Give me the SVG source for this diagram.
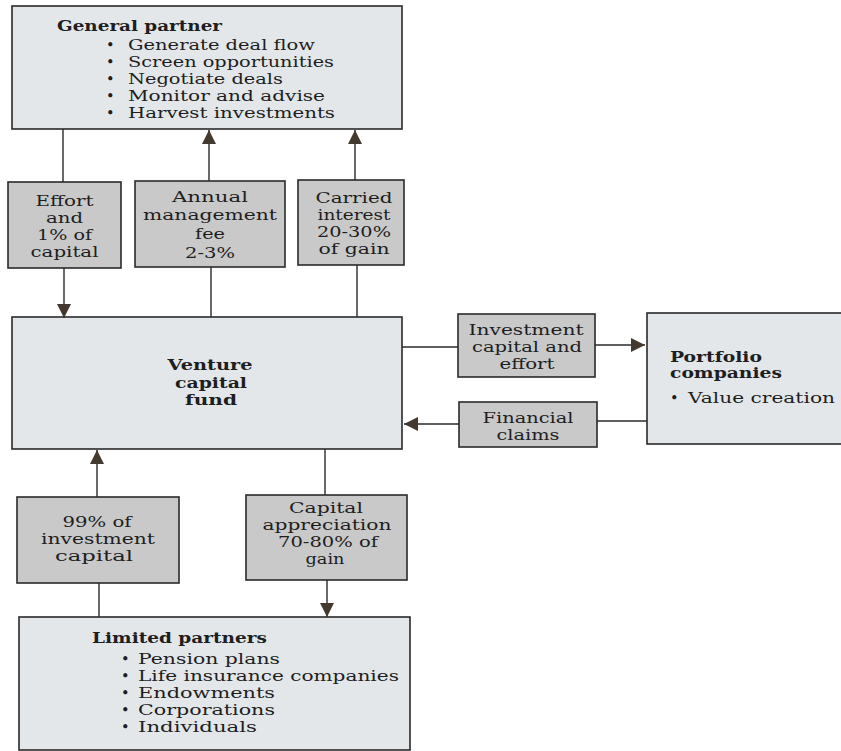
<svg xmlns="http://www.w3.org/2000/svg" width="841" height="751" viewBox="0 0 841 751">
<defs>
<style>
.main{fill:#e3e7ea;stroke:#2a2a2a;stroke-width:1.6}
.lab{fill:#c9c9c9;stroke:#2a2a2a;stroke-width:1.6}
.ln{stroke:#2a2a2a;stroke-width:1.4;fill:none}
text{font-family:"DejaVu Serif","Liberation Serif",serif;font-size:14.5px;fill:#1e1e1e}
.b{font-weight:bold}
.c{text-anchor:middle}
</style>
<marker id="ah" viewBox="0 0 14 14" refX="14" refY="7" markerWidth="14" markerHeight="14" markerUnits="userSpaceOnUse" orient="auto">
<path d="M0,0 L14,7 L0,14 Z" fill="#43392f"/>
</marker>
</defs>
<rect width="841" height="751" fill="#ffffff"/>
<g id="general-partner">
<rect class="main" x="12" y="6" width="390" height="123"/>
<text class="b" x="57" y="31" textLength="165" lengthAdjust="spacingAndGlyphs">General partner</text>
<text x="106" y="50">•</text>
<text x="106" y="67">•</text>
<text x="106" y="84">•</text>
<text x="106" y="101">•</text>
<text x="106" y="118">•</text>
<text x="128" y="50" textLength="187" lengthAdjust="spacingAndGlyphs">Generate deal flow</text>
<text x="128" y="67" textLength="206" lengthAdjust="spacingAndGlyphs">Screen opportunities</text>
<text x="128" y="84" textLength="155" lengthAdjust="spacingAndGlyphs">Negotiate deals</text>
<text x="128" y="101" textLength="197" lengthAdjust="spacingAndGlyphs">Monitor and advise</text>
<text x="128" y="118" textLength="207" lengthAdjust="spacingAndGlyphs">Harvest investments</text>
</g>
<g id="effort">
<rect class="lab" x="8" y="182" width="113" height="86"/>
<text class="c" x="64.5" y="206" textLength="58" lengthAdjust="spacingAndGlyphs">Effort</text>
<text class="c" x="64.5" y="223" textLength="37" lengthAdjust="spacingAndGlyphs">and</text>
<text class="c" x="64.5" y="240" textLength="55" lengthAdjust="spacingAndGlyphs">1% of</text>
<text class="c" x="64.5" y="257" textLength="68" lengthAdjust="spacingAndGlyphs">capital</text>
</g>
<g id="annual-fee">
<rect class="lab" x="135" y="181" width="150" height="86"/>
<text class="c" x="210" y="202" textLength="76" lengthAdjust="spacingAndGlyphs">Annual</text>
<text class="c" x="210" y="220" textLength="134" lengthAdjust="spacingAndGlyphs">management</text>
<text class="c" x="210" y="239" textLength="30" lengthAdjust="spacingAndGlyphs">fee</text>
<text class="c" x="210" y="258" textLength="50" lengthAdjust="spacingAndGlyphs">2-3%</text>
</g>
<g id="carried-interest">
<rect class="lab" x="298" y="180" width="106" height="85"/>
<text class="c" x="354" y="203" textLength="77" lengthAdjust="spacingAndGlyphs">Carried</text>
<text class="c" x="354" y="220" textLength="73" lengthAdjust="spacingAndGlyphs">interest</text>
<text class="c" x="354" y="237" textLength="74" lengthAdjust="spacingAndGlyphs">20-30%</text>
<text class="c" x="354" y="254" textLength="71" lengthAdjust="spacingAndGlyphs">of gain</text>
</g>
<g id="venture-capital-fund">
<rect class="main" x="12" y="317" width="390" height="132"/>
<text class="b c" x="210" y="370" textLength="85" lengthAdjust="spacingAndGlyphs">Venture</text>
<text class="b c" x="211" y="388" textLength="72" lengthAdjust="spacingAndGlyphs">capital</text>
<text class="b c" x="211" y="405" textLength="52" lengthAdjust="spacingAndGlyphs">fund</text>
</g>
<g id="investment-capital">
<rect class="lab" x="458" y="314" width="137" height="63"/>
<text class="c" x="526" y="335" textLength="115" lengthAdjust="spacingAndGlyphs">Investment</text>
<text class="c" x="527" y="352" textLength="110" lengthAdjust="spacingAndGlyphs">capital and</text>
<text class="c" x="527" y="369" textLength="55" lengthAdjust="spacingAndGlyphs">effort</text>
</g>
<g id="financial-claims">
<rect class="lab" x="459" y="402" width="138" height="45"/>
<text class="c" x="528" y="423" textLength="91" lengthAdjust="spacingAndGlyphs">Financial</text>
<text class="c" x="528" y="440" textLength="63" lengthAdjust="spacingAndGlyphs">claims</text>
</g>
<g id="portfolio-companies">
<rect class="main" x="647" y="313" width="200" height="131"/>
<text class="b" x="670" y="362" textLength="92" lengthAdjust="spacingAndGlyphs">Portfolio</text>
<text class="b" x="670" y="378" textLength="112" lengthAdjust="spacingAndGlyphs">companies</text>
<text x="670" y="403">•</text>
<text x="688" y="403" textLength="147" lengthAdjust="spacingAndGlyphs">Value creation</text>
</g>
<g id="investment-capital-99">
<rect class="lab" x="17" y="497" width="162" height="86"/>
<text class="c" x="97" y="527" textLength="69" lengthAdjust="spacingAndGlyphs">99% of</text>
<text class="c" x="98" y="544" textLength="114" lengthAdjust="spacingAndGlyphs">investment</text>
<text class="c" x="94" y="561" textLength="78" lengthAdjust="spacingAndGlyphs">capital</text>
</g>
<g id="capital-appreciation">
<rect class="lab" x="246" y="495" width="161" height="85"/>
<text class="c" x="326" y="513" textLength="74" lengthAdjust="spacingAndGlyphs">Capital</text>
<text class="c" x="327" y="530" textLength="129" lengthAdjust="spacingAndGlyphs">appreciation</text>
<text class="c" x="328" y="547" textLength="100" lengthAdjust="spacingAndGlyphs">70-80% of</text>
<text class="c" x="325" y="564" textLength="39" lengthAdjust="spacingAndGlyphs">gain</text>
</g>
<g id="limited-partners">
<rect class="main" x="19" y="617" width="391" height="133"/>
<text class="b" x="92" y="643" textLength="175" lengthAdjust="spacingAndGlyphs">Limited partners</text>
<text x="121" y="664">•</text>
<text x="121" y="681">•</text>
<text x="121" y="698">•</text>
<text x="121" y="715">•</text>
<text x="121" y="732">•</text>
<text x="138" y="664" textLength="142" lengthAdjust="spacingAndGlyphs">Pension plans</text>
<text x="138" y="681" textLength="261" lengthAdjust="spacingAndGlyphs">Life insurance companies</text>
<text x="138" y="698" textLength="137" lengthAdjust="spacingAndGlyphs">Endowments</text>
<text x="138" y="715" textLength="137" lengthAdjust="spacingAndGlyphs">Corporations</text>
<text x="138" y="732" textLength="119" lengthAdjust="spacingAndGlyphs">Individuals</text>
</g>
<g id="connectors">
<line class="ln" x1="63" y1="129" x2="63" y2="182"/>
<line class="ln" x1="64" y1="268" x2="64" y2="318" marker-end="url(#ah)"/>
<line class="ln" x1="209" y1="181" x2="209" y2="130" marker-end="url(#ah)"/>
<line class="ln" x1="211" y1="267" x2="211" y2="317"/>
<line class="ln" x1="355" y1="180" x2="355" y2="130" marker-end="url(#ah)"/>
<line class="ln" x1="357" y1="265" x2="357" y2="317"/>
<line class="ln" x1="402" y1="347" x2="458" y2="347"/>
<line class="ln" x1="595" y1="345" x2="645" y2="345" marker-end="url(#ah)"/>
<line class="ln" x1="647" y1="421" x2="597" y2="421"/>
<line class="ln" x1="459" y1="424" x2="404" y2="424" marker-end="url(#ah)"/>
<line class="ln" x1="97" y1="497" x2="97" y2="450" marker-end="url(#ah)"/>
<line class="ln" x1="325" y1="449" x2="325" y2="495"/>
<line class="ln" x1="327" y1="580" x2="327" y2="617" marker-end="url(#ah)"/>
<line class="ln" x1="99" y1="583" x2="99" y2="617"/>
</g>
</svg>
